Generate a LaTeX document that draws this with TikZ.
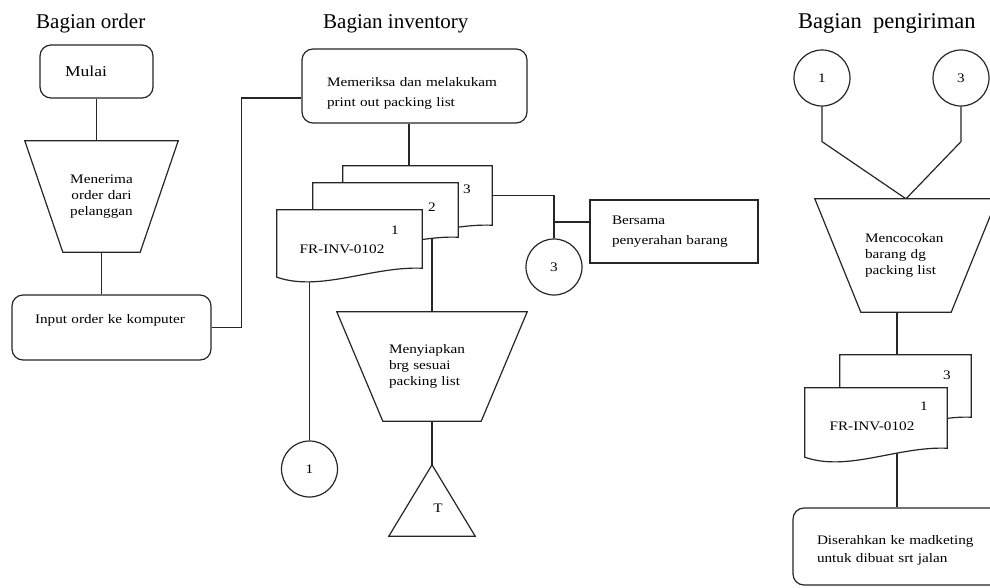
\documentclass[tikz,border=0pt]{standalone}
\usepackage{fontspec}
\setmainfont{Liberation Serif}
\newfontfamily\boxfont[FakeStretch=1.17]{Liberation Serif}
\usetikzlibrary{calc}
\pgfdeclarelayer{wires}
\pgfdeclarelayer{shapes}
\pgfsetlayers{wires,shapes,main}

\tikzset{
  lw/.style={line width=1.2pt, draw=black!85},
  wire/.style={lw},
  outline/.style={lw, fill=white},
  lead/.style={font=\boxfont\fontsize{13}{#1}\selectfont},
  title/.style={anchor=base west, inner sep=0pt, font=\fontsize{21}{25}\selectfont},
  rbox/.style={lw, fill=white, rounded corners=11pt, align=left, inner ysep=0pt, lead=18},
  sbox/.style={lw, fill=white, align=left, inner ysep=0pt, lead=20},
  trapnode/.style={draw=none, inner sep=0pt, lead=16},
  docnode/.style={draw=none, inner sep=0pt},
  conn/.style={lw, fill=white, circle, minimum size=56pt, inner sep=0pt, lead=16},
  label/.style={inner sep=0pt, lead=16}
}

% document symbol: flat top, wavy bottom
\newcommand\docoutline[1]{%
  \draw[outline] (#1.north west) -- (#1.north east) -- (#1.south east)
    .. controls ($(#1.south east)!0.35!(#1.south west)+(0,-2)$)
       and ($(#1.south west)!0.3!(#1.south east)+(0,24)$)
    .. ($(#1.south west)+(0,9)$) -- cycle;}
% manual operation: wide top, narrow bottom
\newcommand\trapoutline[2]{%
  \draw[outline] (#1.north west) -- (#1.north east)
    -- ([xshift=-#2pt]#1.south east) -- ([xshift=#2pt]#1.south west) -- cycle;}

\begin{document}
\begin{tikzpicture}[x=1pt, y=-1pt]
\useasboundingbox (0,0) rectangle (990,587);

% ---- column titles
\node[title] (ttlOrder) at (36,28) {Bagian order};
\node[title] (ttlInv) at (323,28) {Bagian inventory};
\node[title, font=\fontsize{22.5}{26}\selectfont] (ttlShip) at (798,28) {Bagian\ \ pengiriman};

% ---- Bagian order
\node[rbox, minimum width=113pt, minimum height=53pt, text width=63pt, inner xsep=25pt,
      font=\boxfont\fontsize{15}{18}\selectfont] (mulai) at (96.5,71.5) {Mulai};
\node[trapnode, minimum width=153pt, minimum height=111pt, text width=90pt, align=center]
      (recv) at (101.5,196.5) {Menerima\\order dari\\pelanggan};
\node[rbox, minimum width=199pt, minimum height=65pt, text width=153pt, inner xsep=23pt,
      text depth=18pt] (input) at (111.5,327.5) {\mbox{Input order ke komputer}};

% ---- Bagian inventory
\node[rbox, minimum width=225pt, minimum height=74pt, text width=175pt, inner xsep=25pt,
      lead=20, text depth=9pt] (check) at (414.5,86)
      {\mbox{Memeriksa dan melakukam}\\\mbox{print out packing list}};
\node[docnode, minimum width=149pt, minimum height=59pt] (docC) at (417.5,195.5) {};
\node[docnode, minimum width=145pt, minimum height=54pt] (docB) at (385.5,210) {};
\node[docnode, minimum width=145pt, minimum height=58pt] (docA) at (349.5,239) {};
\node[sbox, minimum width=168pt, minimum height=63pt, text width=124pt, inner xsep=22pt]
      (bersama) at (674,231.5) {Bersama\\\mbox{penyerahan barang}};
\node[conn] (inv3) at (554,267) {3};
\node[trapnode, minimum width=190pt, minimum height=109pt, text width=86pt, align=left]
      (prep) at (432,366.5) {Menyiapkan\\brg sesuai\\packing list};
\node[trapnode, minimum width=86pt, minimum height=71pt] (tri) at (432,500.5) {};
\node[conn] (inv1) at (309.5,469) {1};

% ---- Bagian pengiriman
\node[conn] (s1) at (822,78) {1};
\node[conn] (s3) at (961,78) {3};
\node[trapnode, minimum width=182pt, minimum height=113pt, text width=82pt, align=left]
      (match) at (906,255.5) {Mencocokan\\barang dg\\packing list};
\node[docnode, minimum width=131pt, minimum height=62pt] (docE) at (905.5,386) {};
\node[docnode, minimum width=142pt, minimum height=60pt] (docF) at (876,418) {};
\node[rbox, minimum width=212pt, minimum height=77pt, text width=164pt, inner xsep=24pt,
      text depth=14pt] (final) at (899,546.5)
      {\mbox{Diserahkan ke madketing}\\\mbox{untuk dibuat srt jalan}};

% ---- outlines of the drawn symbols
\begin{pgfonlayer}{shapes}
  \trapoutline{recv}{38}
  \trapoutline{prep}{46}
  \trapoutline{match}{46}
  \draw[outline] (tri.south west) -- (tri.north) -- (tri.south east) -- cycle;
  \docoutline{docC}
  \docoutline{docB}
  \docoutline{docA}
  \docoutline{docE}
  \docoutline{docF}
\end{pgfonlayer}

% ---- texts on the symbols
\node[label] (docCn) at (467,189) {3};
\node[label] (docBn) at (432,207) {2};
\node[label] (docAn) at (395,230) {1};
\node[label] (docAt) at (342,249) {FR-INV-0102};
\node[label] (triT) at (438,508) {T};
\node[label] (docEn) at (947,375) {3};
\node[label] (docFn) at (924,406) {1};
\node[label] (docFt) at (872,426) {FR-INV-0102};

% ---- connectors
\begin{pgfonlayer}{wires}
  \fill[white] (0,0) rectangle (990,587);
  \draw[wire] (mulai.south) -- (mulai.south |- recv.north);
  \draw[wire] (recv.south) -- (recv.south |- input.north);
  \draw[wire] (input.east) -- ++(30,0) |- ([yshift=-12pt]check.west);
  \draw[wire] ([xshift=-5.5pt]check.south) -- ([xshift=-5.5pt]check.south |- docC.north);
  \draw[wire] (docC.east) -| (inv3.north);
  \coordinate (bj) at ([yshift=9.5pt]bersama.west);
  \draw[wire] (bj) -- (bj -| inv3.north);
  \draw[wire] (prep.north |- docB.south) -- (prep.north);
  \draw[wire] (prep.south) -- (tri.north);
  \draw[wire] (inv1.north |- docA.south) -- (inv1.north);
  \draw[wire] (s1.south) -- ++(0,35) -- (match.north);
  \draw[wire] (s3.south) -- ++(0,35) -- (match.north);
  \coordinate (mx) at ([xshift=-9pt]match.south);
  \draw[wire] (mx) -- (mx |- docE.north);
  \draw[wire] (mx |- docF.south) -- (mx |- final.north);
\end{pgfonlayer}
\end{tikzpicture}
\end{document}
